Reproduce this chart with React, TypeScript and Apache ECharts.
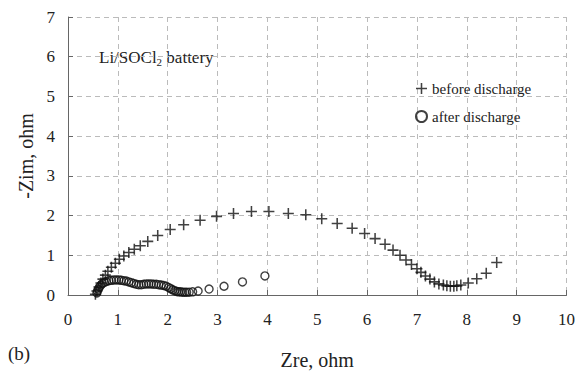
import React, { useEffect, useRef } from "react";
import * as echarts from "echarts";

const xTicks = [0, 1, 2, 3, 4, 5, 6, 7, 8, 9, 10];
const yTicks = [0, 1, 2, 3, 4, 5, 6, 7];

const beforeZre = [
  0.55, 0.58, 0.62, 0.66, 0.7, 0.75, 0.8, 0.87, 0.95, 1.03, 1.12, 1.22, 1.33, 1.45, 1.6, 1.8,
  2.05, 2.32, 2.65, 2.98, 3.32, 3.68, 4.03, 4.42, 4.77, 5.09, 5.4, 5.7, 5.95, 6.16, 6.36, 6.52,
  6.66, 6.78, 6.89, 7.0, 7.08, 7.17, 7.26, 7.35, 7.44, 7.53, 7.6, 7.67, 7.74, 7.8, 7.88, 8.03,
  8.2, 8.39, 8.6,
];
const beforeZim = [
  0.02, 0.1, 0.2, 0.3, 0.4, 0.5, 0.6, 0.7, 0.8, 0.9, 0.98, 1.07, 1.15, 1.24, 1.35, 1.5,
  1.65, 1.77, 1.88, 1.98, 2.05, 2.1, 2.1, 2.05, 2.02, 1.92, 1.8, 1.68, 1.55, 1.42, 1.28, 1.13,
  1.0, 0.88, 0.77, 0.66, 0.57, 0.48, 0.4, 0.33, 0.28, 0.25, 0.23, 0.22, 0.22, 0.23, 0.25, 0.3,
  0.41, 0.55, 0.82,
];

const afterZre = [
  0.57, 0.58, 0.59, 0.61, 0.63, 0.66, 0.69, 0.73, 0.77, 0.82, 0.87, 0.92, 0.97, 1.02, 1.07,
  1.12, 1.17, 1.22, 1.27, 1.32, 1.37, 1.42, 1.47, 1.52, 1.57, 1.62, 1.67, 1.72, 1.77, 1.82,
  1.87, 1.92, 1.97, 2.02, 2.06, 2.1, 2.14, 2.18, 2.22, 2.26, 2.3, 2.34, 2.38, 2.43, 2.5, 2.61,
  2.83, 3.13, 3.5, 3.95,
];
const afterZim = [
  -0.02, 0.05, 0.1, 0.15, 0.2, 0.25, 0.29, 0.32, 0.34, 0.36, 0.37, 0.38, 0.38, 0.38, 0.37,
  0.36, 0.35, 0.33, 0.31, 0.29, 0.27, 0.26, 0.26, 0.27, 0.28, 0.28, 0.28, 0.27, 0.27, 0.26,
  0.25, 0.24, 0.22, 0.19, 0.16, 0.13, 0.11, 0.09, 0.08, 0.08, 0.07, 0.07, 0.07, 0.07, 0.08, 0.1,
  0.15, 0.22, 0.33, 0.48,
];

const plusPath = "path://M4.3,0H5.7V4.3H10V5.7H5.7V10H4.3V5.7H0V4.3H4.3Z";
const FONT = "Liberation Serif";

export default function App() {
  const ref = useRef<HTMLDivElement>(null);
  useEffect(() => {
    if (!ref.current) return;
    const chart = echarts.init(ref.current, undefined, { renderer: "svg" });
    const axisCommon = {
      axisLine: { show: true, lineStyle: { color: "#666", width: 1 } },
      axisTick: { show: true, inside: true, length: 5, lineStyle: { color: "#666" } },
      splitLine: { show: true, lineStyle: { color: "#bbb", type: [5, 4] as any, width: 1 } },
    };
    chart.setOption({
      animation: false,
      backgroundColor: "#fff",
      grid: { left: 68, top: 17, right: 7, bottom: 71 },
      xAxis: {
        type: "value",
        min: xTicks[0],
        max: xTicks[xTicks.length - 1],
        interval: 1,
        name: "Zre, ohm",
        nameLocation: "middle",
        nameGap: 55,
        nameTextStyle: { fontFamily: FONT, fontSize: 20, color: "#222" },
        axisLabel: { fontFamily: FONT, fontSize: 17, color: "#222", margin: 16 },
        ...axisCommon,
      },
      yAxis: {
        type: "value",
        min: yTicks[0],
        max: yTicks[yTicks.length - 1],
        interval: 1,
        name: "-Zim, ohm",
        nameLocation: "middle",
        nameGap: 27,
        nameTextStyle: { fontFamily: FONT, fontSize: 20, color: "#222" },
        axisLabel: { fontFamily: FONT, fontSize: 17, color: "#222", margin: 13 },
        ...axisCommon,
      },
      legend: {
        orient: "vertical",
        left: 410,
        top: 76,
        itemGap: 13,
        itemWidth: 11,
        itemHeight: 11,
        textStyle: { fontFamily: FONT, fontSize: 15, color: "#222", padding: [0, 0, 0, 0] },
        data: [
          { name: "before discharge", icon: plusPath },
          { name: "after discharge", icon: "circle" },
        ],
      },
      graphic: [
        {
          type: "text",
          left: 99,
          top: 49,
          style: {
            text: "Li/SOCl{sub|2} battery",
            fontFamily: FONT,
            fontSize: 17,
            fill: "#222",
            rich: {
              sub: { fontFamily: FONT, fontSize: 11, fill: "#222", padding: [9, 0, 0, 0] },
            },
          } as any,
        },
        {
          type: "text",
          left: 8,
          top: 344,
          style: { text: "(b)", fontFamily: FONT, fontSize: 19, fill: "#222" },
        },
      ],
      series: [
        {
          name: "before discharge",
          type: "scatter",
          symbol: plusPath,
          symbolSize: 11,
          itemStyle: { color: "#111" },
          data: beforeZre.map((x, i) => [x, beforeZim[i]]),
        },
        {
          name: "after discharge",
          type: "scatter",
          symbol: "circle",
          symbolSize: 8,
          itemStyle: { color: "rgba(0,0,0,0)", borderColor: "#111", borderWidth: 1.4 },
          data: afterZre.map((x, i) => [x, afterZim[i]]),
        },
      ],
    });
    return () => chart.dispose();
  }, []);
  return <div ref={ref} style={{ width: 578, height: 375, position: "absolute", left: 0, top: 0 }} />;
}
